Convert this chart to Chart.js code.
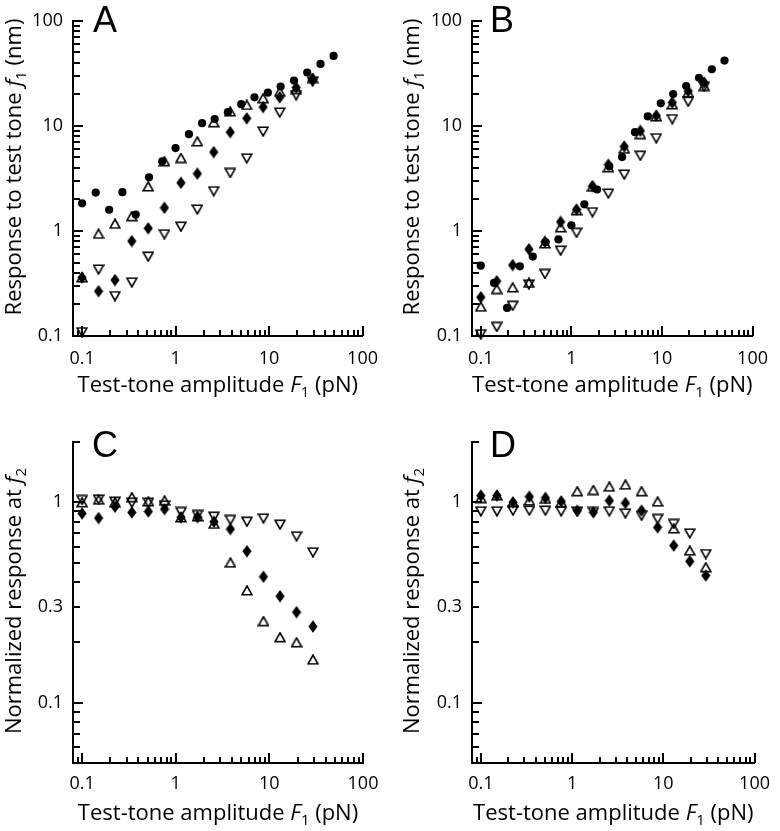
<!DOCTYPE html>
<html lang="en">
<head>
<meta charset="UTF-8"/>
<title>Test-tone response and normalized response</title>
<script src="https://cdn.jsdelivr.net/npm/chart.js@4.4.0/dist/chart.umd.min.js"></script>
<style>
  body { margin: 0; background: #fff; }
  #wrap { position: relative; width: 780px; height: 831px; }
  canvas { position: absolute; }
</style>
</head>
<body>
<div id="wrap">
  <canvas id="panelA" width="390" height="415" style="left:0;top:0"></canvas>
  <canvas id="panelB" width="390" height="415" style="left:390px;top:0"></canvas>
  <canvas id="panelC" width="390" height="416" style="left:0;top:415px"></canvas>
  <canvas id="panelD" width="390" height="416" style="left:390px;top:415px"></canvas>
</div>
<script>
// test-tone amplitudes (pN)
const forceDense = [0.1, 0.14, 0.195, 0.27, 0.375, 0.52, 0.72, 1, 1.39, 1.92, 2.62, 3.63, 5.04, 6.98, 9.7, 13.3, 18.5, 25.6, 35.5, 49];
const forceSteps = [0.1, 0.15, 0.225, 0.34, 0.51, 0.76, 1.14, 1.71, 2.56, 3.84, 5.77, 8.65, 13, 19.5, 29.2];

// panel A: response to test tone f1 (nm)
const aCircle  = [1.83, 2.32, 1.59, 2.34, 1.43, 3.24, 4.6, 6.15, 8.34, 10.6, 11.6, 13.5, 16.1, 18.7, 20.7, 23.7, 27.0, 32.2, 38.9, 46.3];
const aDiamond = [0.36, 0.267, 0.341, 0.80, 1.06, 1.66, 2.87, 3.51, 5.63, 8.71, 11.8, 15.1, 18.7, 23.2, 27.7];
const aUp      = [0.36, 0.94, 1.17, 1.38, 2.65, 4.6, 4.94, 7.1, 10.8, 13.7, 15.8, 18.3, 21.1, 22.4, 28.5];
const aDown    = [0.109, 0.43, 0.24, 0.324, 0.57, 0.93, 1.1, 1.6, 2.39, 3.56, 4.91, 8.84, 13.4, 19.6, 26.5];

// panel B
const bCircle  = [0.467, 0.32, 0.185, 0.46, 0.57, 0.78, 0.83, 1.13, 1.79, 2.48, 4.12, 5.05, 8.71, 12.3, 16.4, 20.1, 23.9, 28.7, 34.6, 41.8];
const bDiamond = [0.234, 0.332, 0.473, 0.67, 0.79, 1.22, 1.6, 2.67, 4.27, 6.37, 8.97, 12.5, 16.7, 21.4, 25.9];
const bUp      = [0.19, 0.28, 0.29, 0.32, 0.76, 1.08, 1.57, 2.63, 4.03, 6.06, 8.34, 12.3, 16.0, 20.7, 23.9];
const bDown    = [0.104, 0.122, 0.194, 0.31, 0.39, 0.65, 0.96, 1.51, 2.27, 3.44, 5.2, 7.64, 11.6, 17.0, 23.6];

// panel C: normalized response at f2
const cDiamond = [0.88, 0.835, 0.95, 0.89, 0.90, 0.925, 0.842, 0.842, 0.80, 0.735, 0.57, 0.425, 0.34, 0.283, 0.24];
const cUp      = [1.0, 1.03, 1.0, 1.06, 1.01, 1.02, 0.84, 0.85, 0.78, 0.50, 0.363, 0.255, 0.212, 0.2, 0.164];
const cDown    = [1.027, 1.035, 1.008, 0.996, 0.996, 0.966, 0.895, 0.865, 0.848, 0.817, 0.801, 0.832, 0.774, 0.677, 0.563];

// panel D
const dDiamond = [1.08, 1.08, 1.0, 1.067, 1.051, 1.011, 0.909, 0.892, 1.019, 0.992, 0.909, 0.75, 0.608, 0.508, 0.431];
const dUp      = [1.05, 1.08, 1.0, 1.02, 1.04, 1.0, 1.135, 1.152, 1.197, 1.225, 1.135, 1.008, 0.74, 0.574, 0.474];
const dDown    = [0.902, 0.902, 0.909, 0.909, 0.909, 0.902, 0.90, 0.895, 0.902, 0.881, 0.858, 0.826, 0.78, 0.70, 0.552];

// tick labels
const xLabels   = [0.1, 1, 10, 100];
const yLabelsAB = [0.1, 1, 10, 100];
const yLabelsCD = [0.1, 0.3, 1];
const yMajorCD  = [0.1, 1];

Chart.defaults.font.family = "'Open Sans', sans-serif";
Chart.defaults.font.size = 18;
Chart.defaults.color = '#000';

function logTicks(lo, hi) {
  const out = [];
  for (let e = -3; e <= 3; e++) {
    for (let m = 1; m <= 9; m++) {
      const v = Number((m * Math.pow(10, e)).toPrecision(6));
      if (v >= lo - 1e-9 && v <= hi + 1e-9) out.push(v);
    }
  }
  return out;
}

function marker(w, h, draw) {
  const c = document.createElement('canvas');
  c.width = w; c.height = h;
  draw(c.getContext('2d'));
  return c;
}
const diamondMark = marker(10, 13, g => {
  g.beginPath(); g.moveTo(5, 0.3); g.lineTo(9.6, 6.5); g.lineTo(5, 12.7); g.lineTo(0.4, 6.5); g.closePath();
  g.fillStyle = '#000'; g.fill();
});
const upMark = marker(12, 11, g => {
  g.beginPath(); g.moveTo(6, 1); g.lineTo(11, 9.8); g.lineTo(1, 9.8); g.closePath();
  g.lineWidth = 1.6; g.strokeStyle = '#000'; g.stroke();
});
const downMark = marker(12, 11, g => {
  g.beginPath(); g.moveTo(1, 1.2); g.lineTo(11, 1.2); g.lineTo(6, 10); g.closePath();
  g.lineWidth = 1.6; g.strokeStyle = '#000'; g.stroke();
});

function drawRich(ctx, parts, size) {
  // parts: [text, italic, sub]
  const fam = "'Open Sans', sans-serif";
  const fontOf = q => (q[1] ? 'italic ' : '') + (q[2] ? Math.round(size * 0.68) : size) + 'px ' + fam;
  let total = 0;
  parts.forEach(q => { ctx.font = fontOf(q); total += ctx.measureText(q[0]).width; });
  let x = -total / 2;
  parts.forEach(q => {
    ctx.font = fontOf(q);
    ctx.fillText(q[0], x, q[2] ? size * 0.22 : 0);
    x += ctx.measureText(q[0]).width;
  });
}

const xTitle = [['Test-tone amplitude ', false, false], ['F', true, false], ['1', false, true], [' (pN)', false, false]];

// inward ticks, panel letter and axis titles
function decorFor(p) {
  return {
    id: 'decor',
    afterDraw(chart) {
      const ctx = chart.ctx, area = chart.chartArea;
      const xs = chart.scales.x, ys = chart.scales.y;
      ctx.save();
      ctx.strokeStyle = '#000';
      ctx.lineWidth = 2;
      xs.ticks.forEach(t => {
        const len = xLabels.includes(t.value) ? 10 : 6;
        const px = Math.round(xs.getPixelForValue(t.value));
        ctx.beginPath(); ctx.moveTo(px, area.bottom); ctx.lineTo(px, area.bottom - len); ctx.stroke();
      });
      ys.ticks.forEach(t => {
        const len = p.yMajor.includes(t.value) ? 10 : 7;
        const py = Math.round(ys.getPixelForValue(t.value));
        ctx.beginPath(); ctx.moveTo(area.left, py); ctx.lineTo(area.left + len, py); ctx.stroke();
      });
      ctx.fillStyle = '#000';
      ctx.textAlign = 'left';
      ctx.textBaseline = 'alphabetic';
      ctx.font = "36px 'Liberation Sans', Arial, sans-serif";
      ctx.fillText(p.letter, p.letterX, p.letterY);
      ctx.save();
      ctx.translate((area.left + area.right) / 2, p.xTitleY);
      drawRich(ctx, xTitle, 22);
      ctx.restore();
      ctx.save();
      ctx.translate(p.yTitleX, p.yTitleY);
      ctx.rotate(-Math.PI / 2);
      drawRich(ctx, p.yTitle, 22);
      ctx.restore();
      ctx.restore();
    }
  };
}

function pts(xs, ys) { return ys.map((y, i) => ({ x: xs[i], y })); }

function series(xs, ys, mark) {
  const base = { data: pts(xs, ys), clip: false, backgroundColor: '#000', borderColor: '#000', borderWidth: 0 };
  if (mark === 'circle') return Object.assign(base, { pointStyle: 'circle', pointRadius: 4.1 });
  return Object.assign(base, { pointStyle: mark, pointRadius: 4 });
}

function makePanel(id, p) {
  new Chart(document.getElementById(id), {
    type: 'scatter',
    data: { datasets: p.datasets },
    options: {
      responsive: false,
      animation: false,
      events: [],
      layout: { padding: { left: 0, top: p.top, right: p.right, bottom: 0 } },
      plugins: { legend: { display: false }, tooltip: { enabled: false } },
      scales: {
        x: {
          type: 'logarithmic', min: 0.08, max: 100,
          grid: { drawOnChartArea: false, drawTicks: false },
          border: { display: true, width: 2, color: '#000' },
          ticks: { padding: p.xPad, autoSkip: false, maxRotation: 0,
                   callback: v => xLabels.includes(v) ? String(v) : '' },
          afterBuildTicks: sc => { sc.ticks = logTicks(0.08, 100).map(v => ({ value: v })); },
          afterFit: sc => { sc.height = p.xHeight; }
        },
        y: {
          type: 'logarithmic', min: p.ymin, max: p.ymax,
          grid: { drawOnChartArea: false, drawTicks: false },
          border: { display: true, width: 2, color: '#000' },
          ticks: { padding: 10, autoSkip: false,
                   callback: v => p.yLabels.includes(v) ? String(v) : '' },
          afterBuildTicks: sc => { sc.ticks = logTicks(p.ymin, p.ymax).map(v => ({ value: v })); },
          afterFit: sc => { sc.width = p.left; }
        }
      }
    },
    plugins: [decorFor(p)]
  });
}

const respTitle = [['Response to test tone ', false, false], ['f', true, false], ['1', false, true], [' (nm)', false, false]];
const normTitle = [['Normalized response at ', false, false], ['f', true, false], ['2', false, true]];

makePanel('panelA', {
  datasets: [series(forceDense, aCircle, 'circle'), series(forceSteps, aDiamond, diamondMark),
             series(forceSteps, aUp, upMark), series(forceSteps, aDown, downMark)],
  left: 73, right: 27, top: 19, xHeight: 79, xPad: 12, ymin: 0.1, ymax: 100,
  yLabels: yLabelsAB, yMajor: yLabelsAB, letter: 'A', letterX: 93, letterY: 32,
  xTitleY: 392, yTitle: respTitle, yTitleX: 21, yTitleY: 167
});
makePanel('panelB', {
  datasets: [series(forceDense, bCircle, 'circle'), series(forceSteps, bDiamond, diamondMark),
             series(forceSteps, bUp, upMark), series(forceSteps, bDown, downMark)],
  left: 82, right: 19, top: 19, xHeight: 79, xPad: 12, ymin: 0.1, ymax: 100,
  yLabels: yLabelsAB, yMajor: yLabelsAB, letter: 'B', letterX: 100, letterY: 32,
  xTitleY: 392, yTitle: respTitle, yTitleX: 29, yTitleY: 167
});
makePanel('panelC', {
  datasets: [series(forceSteps, cDiamond, diamondMark), series(forceSteps, cUp, upMark), series(forceSteps, cDown, downMark)],
  left: 73, right: 27, top: 27, xHeight: 68, xPad: 10, ymin: 0.05, ymax: 2,
  yLabels: yLabelsCD, yMajor: yMajorCD, letter: 'C', letterX: 92, letterY: 42,
  xTitleY: 405, yTitle: normTitle, yTitleX: 21, yTitleY: 186
});
makePanel('panelD', {
  datasets: [series(forceSteps, dDiamond, diamondMark), series(forceSteps, dUp, upMark), series(forceSteps, dDown, downMark)],
  left: 82, right: 19, top: 27, xHeight: 68, xPad: 10, ymin: 0.05, ymax: 2,
  yLabels: yLabelsCD, yMajor: yMajorCD, letter: 'D', letterX: 100, letterY: 42,
  xTitleY: 405, yTitle: normTitle, yTitleX: 29, yTitleY: 186
});
</script>
</body>
</html>
